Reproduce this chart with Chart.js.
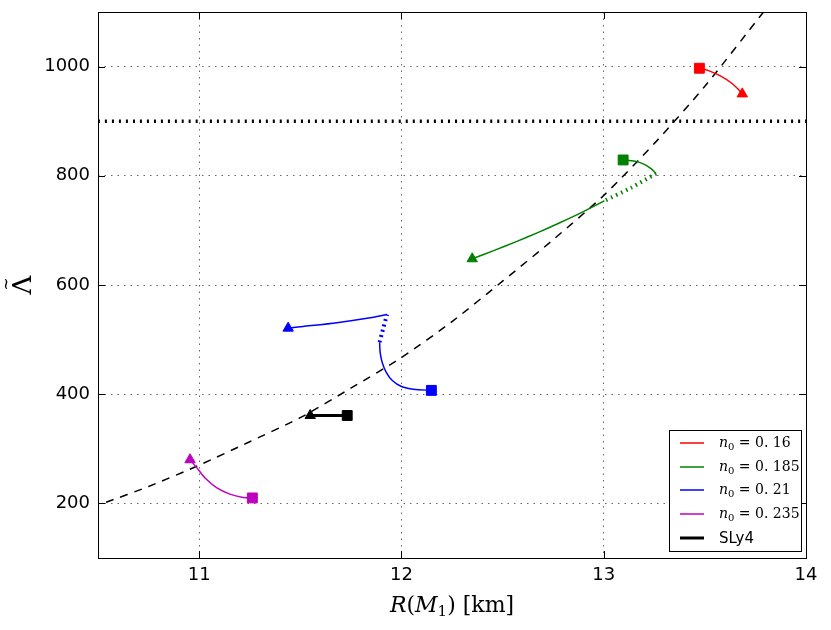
<!DOCTYPE html>
<html>
<head>
<meta charset="utf-8">
<script src="https://cdn.jsdelivr.net/npm/chart.js@4.4.0/dist/chart.umd.min.js"></script>
<style>
  html, body { margin: 0; padding: 0; background: #fff; }
  #wrap { width: 831px; height: 630px; }
</style>
</head>
<body>
<div id="wrap"><canvas id="chart" width="831" height="630"></canvas></div>
<script>
const xTicks = [11, 12, 13, 14];
const yTicks = [200, 400, 600, 800, 1000];
const xRange = [10.5, 14];
const yRange = [100, 1100];
const limitL = 900;

// dashed fit through the curves
const fitR = [10.54, 10.75, 11.0, 11.25, 11.5, 11.75, 12.0, 12.25, 12.5, 12.75, 13.0, 13.25, 13.5, 13.79];
const fitL = [202, 231, 270, 313, 357, 411, 467, 533, 607, 683, 764, 859, 964, 1100];

// each track runs from the square to the triangle
const redR = [13.473, 13.515, 13.581, 13.631, 13.664, 13.685];
const redL = [997, 993, 982, 970, 959, 950];

const greenR = [13.096, 13.151, 13.201, 13.234, 13.259, 13.135, 13.003, 12.892, 12.783, 12.674, 12.565, 12.456, 12.350];
const greenL = [829, 827, 821, 813, 804, 778, 754, 733, 714, 696, 679, 663, 648];
const greenDotted = [4, 6];

const blueR = [12.148, 12.060, 12.000, 11.955, 11.925, 11.905, 11.895, 11.892, 11.911, 11.929, 11.846, 11.681, 11.514, 11.440];
const blueL = [407, 409, 414, 425, 440, 458, 476, 495, 522, 546, 540, 531, 524, 521];
const blueDotted = [7, 9];

const magR = [11.263, 11.218, 11.152, 11.086, 11.028, 10.987, 10.955];
const magL = [210, 211, 217, 229, 247, 266, 280];

const slyR = [11.732, 11.549];
const slyL = [361, 361];

const n0Labels = ["0.16", "0.185", "0.21", "0.235"];
const eosLabel = "SLy4";

const RED = "#ff0000", GREEN = "#008000", BLUE = "#0000ff", MAG = "#bf00bf", BLACK = "#000000";

function pts(R, L) {
  return R.map((r, i) => ({ x: r, y: L[i] }));
}

function curve(data, color, width, dash, order) {
  return {
    data,
    showLine: true,
    borderColor: color,
    backgroundColor: color,
    borderWidth: width,
    borderDash: dash || [],
    borderCapStyle: "butt",
    pointRadius: 0,
    pointHoverRadius: 0,
    tension: 0.25,
    order,
  };
}

function marker(p, color, style, r) {
  return {
    data: [p],
    showLine: false,
    pointStyle: style,
    pointRadius: r,
    pointHoverRadius: r,
    pointBackgroundColor: color,
    pointBorderColor: color,
    pointBorderWidth: 1,
    order: 1,
  };
}

function markers(R, L, color) {
  const p = pts(R, L);
  return [marker(p[0], color, "rect", 7), marker(p[p.length - 1], color, "triangle", 6)];
}

const green = pts(greenR, greenL);
const blue = pts(blueR, blueL);

const datasets = [
  curve(pts(fitR, fitL), BLACK, 1.5, [8, 7], 10),
  curve(pts(xRange, [limitL, limitL]), BLACK, 3.5, [2, 5], 9),
  curve(pts(redR, redL), RED, 1.5, null, 5),
  curve(green.slice(0, greenDotted[0] + 1), GREEN, 1.5, null, 5),
  curve(green.slice(greenDotted[0], greenDotted[1] + 1), GREEN, 4, [1.5, 4], 5),
  curve(green.slice(greenDotted[1]), GREEN, 1.5, null, 5),
  curve(blue.slice(0, blueDotted[0] + 1), BLUE, 1.5, null, 5),
  curve(blue.slice(blueDotted[0], blueDotted[1] + 1), BLUE, 4, [2, 3.5], 5),
  curve(blue.slice(blueDotted[1]), BLUE, 1.5, null, 5),
  curve(pts(magR, magL), MAG, 1.5, null, 5),
  curve(pts(slyR, slyL), BLACK, 3, null, 5),
  ...markers(redR, redL, RED),
  ...markers(greenR, greenL, GREEN),
  ...markers(blueR, blueL, BLUE),
  ...markers(magR, magL, MAG),
  ...markers(slyR, slyL, BLACK),
];

function drawRich(ctx, parts, x0, baseline, center) {
  let w = 0;
  parts.forEach(p => { ctx.font = p[1]; w += ctx.measureText(p[0]).width; });
  let x = center ? x0 - w / 2 : x0;
  parts.forEach(p => {
    ctx.font = p[1];
    ctx.fillText(p[0], x, baseline + (p[2] || 0));
    x += ctx.measureText(p[0]).width;
  });
}

const frame = {
  id: "frame",
  afterDraw(chart) {
    const { ctx, chartArea: a, scales } = chart;
    ctx.save();
    ctx.setLineDash([]);
    ctx.strokeStyle = "#000";
    ctx.lineWidth = 1;
    ctx.beginPath();
    xTicks.forEach(v => {
      const p = Math.round(scales.x.getPixelForValue(v)) + 0.5;
      ctx.moveTo(p, a.bottom); ctx.lineTo(p, a.bottom - 7);
      ctx.moveTo(p, a.top); ctx.lineTo(p, a.top + 7);
    });
    yTicks.forEach(v => {
      const p = Math.round(scales.y.getPixelForValue(v)) + 0.5;
      ctx.moveTo(a.left, p); ctx.lineTo(a.left + 7, p);
      ctx.moveTo(a.right, p); ctx.lineTo(a.right - 7, p);
    });
    ctx.stroke();
    ctx.strokeRect(Math.round(a.left) + 0.5, Math.round(a.top) + 0.5,
      Math.round(a.right - a.left), Math.round(a.bottom - a.top));

    // legend
    const lx = 669, ly = 430, lw = 132, lh = 121;
    ctx.fillStyle = "#fff";
    ctx.fillRect(lx, ly, lw, lh);
    ctx.strokeRect(lx + 0.5, ly + 0.5, lw, lh);
    const rows = [443, 467, 490, 514, 538];
    const cols = [RED, GREEN, BLUE, MAG];
    ctx.fillStyle = "#000";
    ctx.textAlign = "left";
    ctx.textBaseline = "alphabetic";
    n0Labels.forEach((lab, i) => {
      ctx.strokeStyle = cols[i];
      ctx.lineWidth = 1.5;
      ctx.beginPath(); ctx.moveTo(680, rows[i]); ctx.lineTo(704, rows[i]); ctx.stroke();
      drawRich(ctx, [
        ["n", "italic 14px 'DejaVu Serif'"],
        ["0", "10px 'DejaVu Serif'", 3],
        [" = ", "14px 'DejaVu Serif'"],
        [lab.replace(".", ". "), "14px 'DejaVu Serif'"],
      ], 719, rows[i] + 4, false);
    });
    ctx.strokeStyle = "#000";
    ctx.lineWidth = 3;
    ctx.beginPath(); ctx.moveTo(680, rows[4]); ctx.lineTo(704, rows[4]); ctx.stroke();
    ctx.font = "15px 'DejaVu Sans'";
    ctx.fillText(eosLabel, 719, rows[4] + 5);

    // axis titles
    const cx = (a.left + a.right) / 2;
    drawRich(ctx, [
      ["R", "italic 22px 'DejaVu Serif'"],
      ["(", "22px 'DejaVu Serif'"],
      ["M", "italic 22px 'DejaVu Serif'"],
      ["1", "15px 'DejaVu Serif'", 4],
      [")", "22px 'DejaVu Serif'"],
      [" [km]", "22px 'DejaVu Serif'"],
    ], cx, 612, true);

    ctx.translate(31, (a.top + a.bottom) / 2);
    ctx.rotate(-Math.PI / 2);
    ctx.textAlign = "center";
    ctx.font = "26px 'DejaVu Serif'";
    ctx.fillText("\u039B", 0, 0);
    ctx.font = "16px 'DejaVu Serif'";
    ctx.textBaseline = "middle";
    ctx.fillText("~", 1, -24);
    ctx.restore();
  },
};

new Chart(document.getElementById("chart"), {
  type: "scatter",
  data: { datasets },
  options: {
    responsive: false,
    animation: false,
    layout: { padding: { top: 12, right: 25, left: 0, bottom: 0 } },
    plugins: { legend: { display: false }, tooltip: { enabled: false } },
    scales: {
      x: {
        type: "linear",
        min: xRange[0],
        max: xRange[1],
        afterBuildTicks: s => { s.ticks = xTicks.map(v => ({ value: v })); },
        afterFit: s => { s.height = 72; s.paddingLeft = 0; s.paddingRight = 0; },
        ticks: {
          callback: v => String(v),
          font: { family: "DejaVu Sans", size: 18 },
          color: "#000",
          padding: 7,
          maxRotation: 0,
          autoSkip: false,
        },
        grid: { color: "rgba(0,0,0,0.6)", lineWidth: 1, drawTicks: false },
        border: { display: false, dash: [1.5, 5] },
      },
      y: {
        type: "linear",
        min: yRange[0],
        max: yRange[1],
        afterBuildTicks: s => { s.ticks = yTicks.map(v => ({ value: v })); },
        afterFit: s => { s.width = 98; s.paddingTop = 0; s.paddingBottom = 0; },
        ticks: {
          callback: v => String(v),
          font: { family: "DejaVu Sans", size: 18 },
          color: "#000",
          padding: 8,
          autoSkip: false,
        },
        grid: { color: "rgba(0,0,0,0.6)", lineWidth: 1, drawTicks: false },
        border: { display: false, dash: [1.5, 5] },
      },
    },
  },
  plugins: [frame],
});
</script>
</body>
</html>
